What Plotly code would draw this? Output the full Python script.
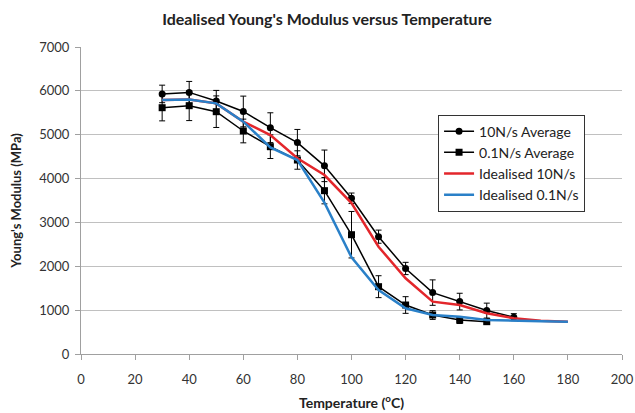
import plotly.graph_objects as go

# Data
temp_10 = [30, 40, 50, 60, 70, 80, 90, 100, 110, 120, 130, 140, 150, 160]
avg_10 = [5930, 5965, 5770, 5530, 5160, 4820, 4290, 3550, 2675, 1950, 1400, 1195, 990, 840]
err_10 = [200, 250, 240, 350, 340, 300, 360, 120, 150, 140, 290, 190, 170, 80]

temp_01 = [30, 40, 50, 60, 70, 80, 90, 100, 110, 120, 130, 140, 150]
avg_01 = [5616, 5662, 5525, 5085, 4727, 4423, 3724, 2720, 1535, 1117, 889, 775, 737]
err_01 = [300, 340, 360, 270, 270, 210, 300, 530, 250, 190, 100, 80, 50]

temp_ideal = [30, 40, 50, 60, 70, 80, 90, 100, 110, 120, 130, 140, 150, 160, 170, 180]
ideal_10 = [5790, 5805, 5715, 5297, 4993, 4462, 4081, 3440, 2446, 1726, 1193, 1117, 928, 814, 760, 737]
ideal_01 = [5790, 5805, 5715, 5297, 4712, 4423, 3450, 2205, 1459, 1042, 889, 851, 775, 752, 745, 737]

x_ticks = list(range(0, 201, 20))
y_ticks = list(range(0, 7001, 1000))

FONT = "Lato, Open Sans, sans-serif"

fig = go.Figure()

fig.add_trace(go.Scatter(
    x=temp_10, y=avg_10, name="10N/s Average", mode="lines+markers",
    line=dict(color="black", width=1.5),
    marker=dict(symbol="circle", size=7, color="black"),
    error_y=dict(type="data", array=err_10, color="black", thickness=1, width=3),
))
fig.add_trace(go.Scatter(
    x=temp_01, y=avg_01, name="0.1N/s Average", mode="lines+markers",
    line=dict(color="black", width=1.5),
    marker=dict(symbol="square", size=7, color="black"),
    error_y=dict(type="data", array=err_01, color="black", thickness=1, width=3),
))
fig.add_trace(go.Scatter(
    x=temp_ideal, y=ideal_10, name="Idealised 10N/s", mode="lines",
    line=dict(color="#e3262b", width=2.5),
))
fig.add_trace(go.Scatter(
    x=temp_ideal, y=ideal_01, name="Idealised 0.1N/s", mode="lines",
    line=dict(color="#2a80c8", width=2.5),
))

fig.update_layout(
    width=635, height=413,
    margin=dict(l=81, r=13, t=47, b=59),
    paper_bgcolor="white", plot_bgcolor="white",
    font=dict(family=FONT, size=13, color="#333333"),
    title=dict(
        text="<b>Idealised Young's Modulus versus Temperature</b>",
        x=0.515, xanchor="center", y=0.952, yanchor="middle",
        font=dict(family=FONT, size=16, color="#222222"),
    ),
    showlegend=True,
    legend=dict(
        x=0.66, y=0.78, xanchor="left", yanchor="top",
        bgcolor="white", bordercolor="#333333", borderwidth=1,
        font=dict(family=FONT, size=14, color="#222222"),
        tracegroupgap=0, itemwidth=30,
    ),
    xaxis=dict(
        range=[0, 200], tickvals=x_ticks, showgrid=False,
        showline=True, linecolor="#a0a0a0", linewidth=1,
        ticks="outside", ticklen=5, tickcolor="#a0a0a0",
        zeroline=False, automargin=False, ticklabelstandoff=8,
        title=dict(text="<b>Temperature (<sup>o</sup>C)</b>",
                   font=dict(family=FONT, size=14, color="#222222"), standoff=12),
    ),
    yaxis=dict(
        range=[0, 7000], tickvals=y_ticks, showgrid=True, gridcolor="#c0c0c0", gridwidth=1,
        showline=True, linecolor="#a0a0a0", linewidth=1,
        ticks="outside", ticklen=5, tickcolor="#a0a0a0",
        zeroline=False, automargin=False, ticklabelstandoff=3,
        title=dict(text="<b>Young's Modulus (MPa)</b>",
                   font=dict(family=FONT, size=13, color="#222222"), standoff=14),
    ),
)

fig.write_html("out.html")
